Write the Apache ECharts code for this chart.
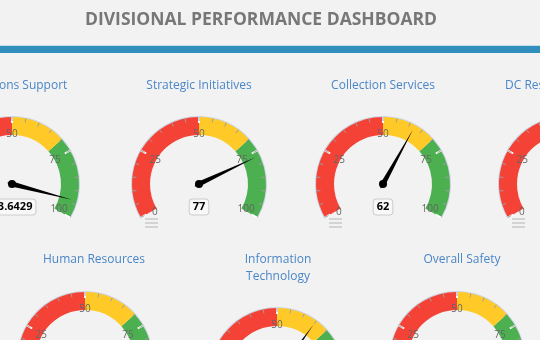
<!DOCTYPE html>
<html>
<head>
<meta charset="utf-8">
<script src="https://cdn.jsdelivr.net/npm/echarts@6/dist/echarts.min.js"></script>
<style>
html,body{margin:0;padding:0;background:#f2f2f2;}
#chart{width:540px;height:340px;}
</style>
</head>
<body>
<div id="chart"></div>
<script>
// ---- data ----
var dashboardTitle = 'DIVISIONAL PERFORMANCE DASHBOARD';
var gaugeNames = ['Operations Support', 'Strategic Initiatives', 'Collection Services', 'DC Resources',
                  'Human Resources', 'Information\nTechnology', 'Overall Safety'];
var gaugeValues = [93.6429, 77, 62, 80, 90, 65, 85];
var axisMin = 0, axisMax = 100;
var tickLabels = [0, 25, 50, 75, 100];
var bandLimits = [50, 70, 100];

// ---- layout (px) ----
var centers = [[12, 184], [199, 184], [383, 184], [566, 184], [85, 359], [277, 375], [457, 359]];
var titlePos = [[12, 85, 'center'], [199, 85, 'center'], [383, 85, 'center'], [505, 85, 'left'],
                [94, 259.5, 'center'], [278, 259.5, 'center'], [462, 259.5, 'center']];
var R = 67, BAND = 18;
var colors = ['#f44336', '#ffca28', '#4caf50'];
// per-label nudges [top, right, bottom, left] so labels sit like the reference
var labelPads = [[0, 0, 9.6, 9.3], [17, 0, 0, 6.8], [18, 0, 0, 0], [17, 7.5, 0, 0], [0, 0.6, 15, 0]];

var chart = echarts.init(document.getElementById('chart'), null, {renderer: 'canvas'});

var rich = {};
tickLabels.forEach(function (t, k) {
  rich['t' + k] = {padding: labelPads[k], color: '#666666', fontSize: 10, fontFamily: 'Open Sans', lineHeight: 12};
});

var series = [];
gaugeValues.forEach(function (v, i) {
  // pane outline
  series.push({
    type: 'gauge', center: centers[i], radius: R + 1, startAngle: 210, endAngle: -30,
    min: axisMin, max: axisMax, animation: false, silent: true, z: 1,
    axisLine: {lineStyle: {width: 2, color: [[1, '#ccd4e2']]}},
    splitLine: {show: false}, axisTick: {show: false}, axisLabel: {show: false},
    pointer: {show: false}, anchor: {show: false}, title: {show: false}, detail: {show: false},
    data: []
  });
  series.push({
    type: 'gauge',
    center: centers[i],
    radius: R,
    startAngle: 210,
    endAngle: -30,
    min: axisMin,
    max: axisMax,
    splitNumber: tickLabels.length - 1,
    animation: false,
    z: 2,
    axisLine: {
      lineStyle: {
        width: BAND,
        color: bandLimits.map(function (b, k) { return [(b - axisMin) / (axisMax - axisMin), colors[k]]; })
      }
    },
    splitLine: {distance: -BAND, length: 6, lineStyle: {color: '#ffffff', width: 2}},
    axisTick: {distance: -BAND, length: 4, splitNumber: 5, lineStyle: {color: '#9e9e9e', width: 1}},
    axisLabel: {
      distance: 14, color: '#666666', fontSize: 10, fontFamily: 'Open Sans',
      formatter: function (val) {
        var k = tickLabels.indexOf(Math.round(val));
        return '{t' + k + '|' + tickLabels[k] + '}';
      },
      rich: rich
    },
    pointer: {show: true, length: 62, width: 2.5, itemStyle: {color: '#000000'}},
    anchor: {show: true, size: 8, showAbove: true, itemStyle: {color: '#000000'}},
    title: {show: false},
    detail: {
      show: true,
      width: null,
      height: null,
      offsetCenter: [0, 23],
      formatter: function (val) { return String(val); },
      fontFamily: 'Open Sans', fontSize: 11, fontWeight: 'bold', color: '#000000',
      backgroundColor: '#f8f8f8', borderColor: '#cccccc', borderWidth: 1, borderRadius: 3,
      padding: [2, 3], lineHeight: 11
    },
    data: [{value: v, name: gaugeNames[i]}]
  });
});

var titles = [{
  text: dashboardTitle, left: 261, top: 11, textAlign: 'center', padding: 0,
  textStyle: {fontFamily: 'Open Sans', fontSize: 17.5, fontWeight: 'bold', color: '#777777'}
}];
gaugeNames.forEach(function (n, i) {
  titles.push({
    text: n, left: titlePos[i][0], top: titlePos[i][1] - 8, textAlign: titlePos[i][2], padding: 0,
    textStyle: {fontFamily: 'Open Sans', fontSize: 12, fontWeight: 'normal', color: '#4a86c8', lineHeight: 16.5}
  });
});

var graphics = [
  {type: 'rect', shape: {x: 0, y: 45, width: 540, height: 1}, style: {fill: '#c6dce8'}},
  {type: 'rect', shape: {x: 0, y: 46, width: 540, height: 7}, style: {fill: '#318fbe'}}
];
centers.forEach(function (c) {
  for (var k = 0; k < 3; k++) {
    graphics.push({type: 'line', shape: {x1: c[0] - 54, y1: c[1] + 35 + 4 * k, x2: c[0] - 41, y2: c[1] + 35 + 4 * k},
                   style: {stroke: '#c8c8c8', lineWidth: 1.5}});
  }
});

chart.setOption({
  backgroundColor: '#f2f2f2',
  animation: false,
  title: titles,
  graphic: graphics,
  series: series
});
</script>
</body>
</html>
